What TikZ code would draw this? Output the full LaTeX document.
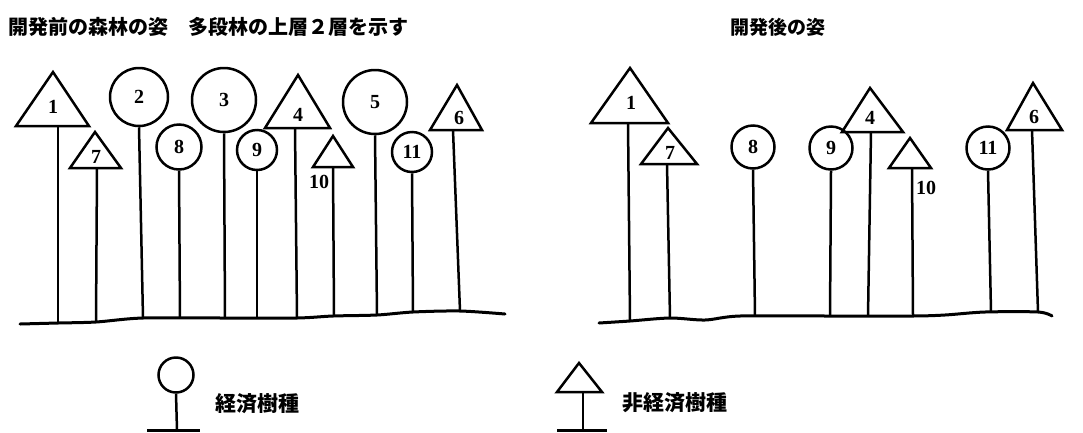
\documentclass[tikz,border=0pt]{standalone}
\usepackage{fontspec}
\setmainfont{Liberation Serif}
\newfontfamily\jpfont{Noto Sans CJK JP}
\usetikzlibrary{calc}

\tikzset{
	crown/.style={draw, circle, line width=2.5pt, inner sep=0pt, font=\bfseries\fontsize{20}{20}\selectfont},
	cone/.style={line width=2.5pt, line join=miter},
	num/.style={font=\bfseries\fontsize{20}{20}\selectfont, inner sep=0pt},
	trunk/.style={line width=2.5pt},
	ground/.style={line width=3pt, line cap=round},
	caption/.style={font=\jpfont\bfseries\fontsize{20}{20}\selectfont, anchor=west, inner sep=0pt},
}

\begin{document}
\begin{tikzpicture}[x=1pt, y=-1pt]
		\useasboundingbox (0,0) rectangle (1083,432);
		%%%%% START %%%%%
		
		\node[caption] (before) at (8,27) {開発前の森林の姿　多段林の上層２層を示す};
		\node[caption, font=\jpfont\bfseries\fontsize{19}{19}\selectfont] (after) at (730,27) {開発後の姿};
		
		%% before: ground
		\draw[ground] plot[smooth, tension=0.5] coordinates {(20,324) (58,323) (96,322) (143,318) (225,318) (297,318) (333,316) (377,315) (413,312) (460,311) (505,314)};
		\coordinate (g1) at (58,323);
		\coordinate (g7) at (96,322);
		\coordinate (g2) at (143,318);
		\coordinate (g8) at (180,318);
		\coordinate (g3) at (225,318);
		\coordinate (g9) at (257,318);
		\coordinate (g4) at (297,318);
		\coordinate (g10) at (334,316);
		\coordinate (g5) at (377,315);
		\coordinate (g11) at (413,312);
		\coordinate (g6) at (460,311);
		
		%% before: trees
		\draw[cone] (16,126) -- (53,72) -- (89,126) -- cycle;
		\node[num] (n1) at (53,107) {1};
		\coordinate (k1) at (58,126);
		\draw[trunk] (k1) -- (g1);
		
		\draw[cone] (70,168) -- (95,132) -- (121,168) -- cycle;
		\node[num] (n7) at (96,157) {7};
		\coordinate (k7) at (97,168);
		\draw[trunk] (k7) -- (g7);
		
		\node[crown, minimum size=58] (c2) at (139,97) {2};
		\draw[trunk] (c2.south) -- (g2);
		
		\node[crown, minimum size=45] (c8) at (179,147) {8};
		\draw[trunk] (c8.south) -- (g8);
		
		\node[crown, minimum size=64] (c3) at (224,100) {3};
		\draw[trunk] (c3.south) -- (g3);
		
		\node[crown, minimum size=40] (c9) at (257,150) {9};
		\draw[trunk] (c9.south) -- (g9);
		
		\draw[cone] (265,128) -- (298,75) -- (330,128) -- cycle;
		\node[num] (n4) at (298,115) {4};
		\coordinate (k4) at (295,128);
		\draw[trunk] (k4) -- (g4);
		
		\draw[cone] (313,167) -- (333,136) -- (353,167) -- cycle;
		\node[num] (n10) at (319,182) {10};
		\coordinate (k10) at (333,167);
		\draw[trunk] (k10) -- (g10);
		
		\node[crown, minimum size=64] (c5) at (375,102) {5};
		\draw[trunk] (c5.south) -- (g5);
		
		\node[crown, minimum size=40] (c11) at (412,152) {11};
		\draw[trunk] (c11.south) -- (g11);
		
		\draw[cone] (430,130) -- (457,85) -- (482,130) -- cycle;
		\node[num] (n6) at (459,118) {6};
		\coordinate (k6) at (453,130);
		\draw[trunk] (k6) -- (g6);
		
		%% after: ground
		\draw[ground] plot[smooth, tension=0.5] coordinates {(599,323) (630,321) (670,318) (705,320) (740,316) (830,316) (913,316) (945,315) (985,312) (1038,312) (1052,316)};
		\coordinate (h1) at (630,321);
		\coordinate (h7) at (670,318);
		\coordinate (h8) at (755,316);
		\coordinate (h9) at (830,316);
		\coordinate (h4) at (868,316);
		\coordinate (h10) at (913,316);
		\coordinate (h11) at (991,312);
		\coordinate (h6) at (1038,312);
		
		%% after: trees
		\draw[cone] (591,123) -- (630,68) -- (668,123) -- cycle;
		\node[num] (m1) at (631,103) {1};
		\coordinate (q1) at (628,123);
		\draw[trunk] (q1) -- (h1);
		
		\draw[cone] (641,164) -- (668,128) -- (697,164) -- cycle;
		\node[num] (m7) at (670,153) {7};
		\coordinate (q7) at (667,164);
		\draw[trunk] (q7) -- (h7);
		
		\node[crown, minimum size=43] (d8) at (753,147) {8};
		\draw[trunk] (d8.south) -- (h8);
		
		\node[crown, minimum size=43] (d9) at (831,148) {9};
		\draw[trunk] (d9.south) -- (h9);
		
		\draw[cone] (842,132) -- (870,88) -- (903,132) -- cycle;
		\node[num] (m4) at (870,118) {4};
		\coordinate (q4) at (871,132);
		\draw[trunk] (q4) -- (h4);
		
		\draw[cone] (889,168) -- (910,138) -- (931,168) -- cycle;
		\node[num] (m10) at (926,188) {10};
		\coordinate (q10) at (912,168);
		\draw[trunk] (q10) -- (h10);
		
		\node[crown, minimum size=43] (d11) at (988,148) {11};
		\draw[trunk] (d11.south) -- (h11);
		
		\draw[cone] (1007,130) -- (1033,83) -- (1062,130) -- cycle;
		\node[num] (m6) at (1034,117) {6};
		\coordinate (q6) at (1032,130);
		\draw[trunk] (q6) -- (h6);
		
		%% key
		\node[crown, minimum size=35] (keyc) at (176,375) {};
		\coordinate (keycb) at (177,430);
		\draw[trunk] (keyc.south) -- (keycb);
		\draw[ground, line cap=butt] (147,430) -- (200,430);
		\node[caption, font=\jpfont\bfseries\fontsize{21}{21}\selectfont] (econ) at (215,404) {経済樹種};
		
		\draw[cone] (557,392) -- (579,363) -- (602,392) -- cycle;
		\coordinate (keyt) at (583,392);
		\coordinate (keytb) at (583,430);
		\draw[trunk] (keyt) -- (keytb);
		\draw[ground, line cap=butt] (557,430) -- (607,430);
		\node[caption, font=\jpfont\bfseries\fontsize{21}{21}\selectfont] (nonecon) at (622,403) {非経済樹種};
		
		%%%%% END %%%%%
\end{tikzpicture}
\end{document}
